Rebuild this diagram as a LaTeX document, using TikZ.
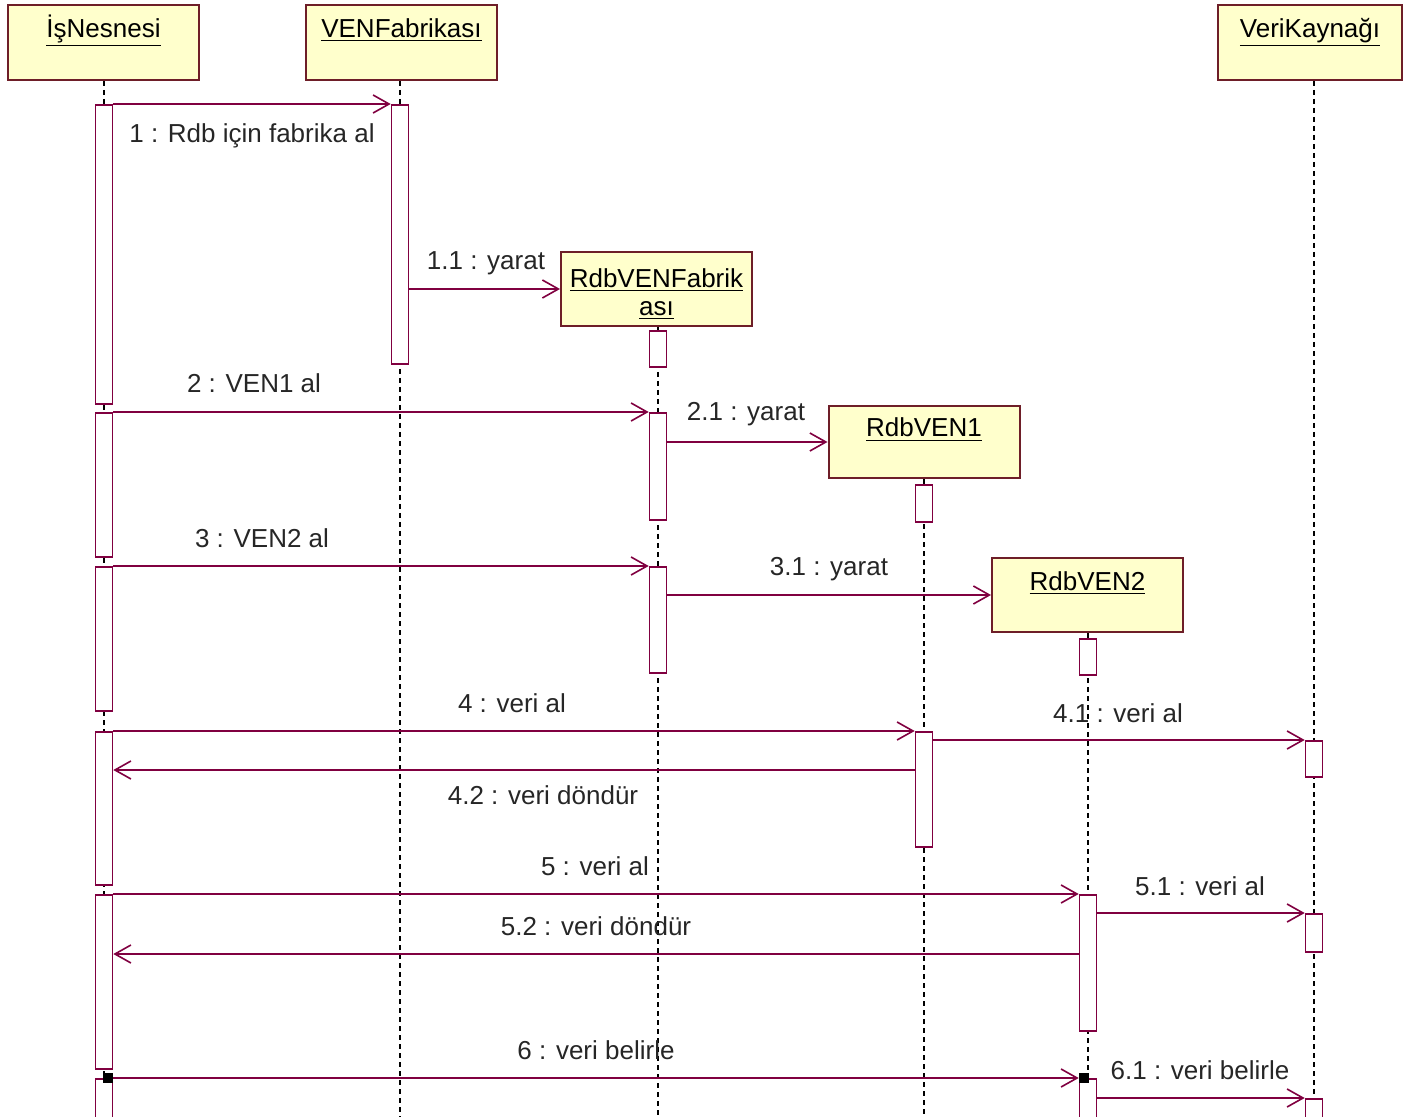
\documentclass[tikz,border=0pt]{standalone}
\usepackage{fontspec}
\setmainfont{Liberation Sans}
\usetikzlibrary{arrows.meta,positioning,calc,backgrounds}
\definecolor{cfill}{RGB}{255,255,204}
\definecolor{cbox}{RGB}{110,30,40}
\definecolor{cmsg}{RGB}{128,0,64}
\newcommand{\actbar}[4]{\node[actbar, minimum height={(#4-#3)*0.5pt}] (#1) at (#2,#3) {};}

\begin{document}
\begin{tikzpicture}[x=0.5pt, y=-0.5pt,
  font=\fontsize{13}{12.5}\selectfont,
  obj/.style={draw=cbox, fill=cfill, line width=1pt, minimum width=95.5pt,
    minimum height=37pt, inner sep=0pt, align=center},
  objone/.style={obj, text height=9pt, text depth=14pt},
  actbar/.style={draw=cmsg, fill=white, line width=0.8pt, minimum width=8.5pt,
    inner sep=0pt, anchor=north},
  life/.style={dash pattern=on 2.5pt off 2pt, line width=0.6pt},
  msg/.style={draw=cmsg, line width=0.8pt, -{Straight Barb[length=8pt,width=9pt]}},
  lbl/.style={text=black!85},
  sync/.style={fill=black, minimum size=5pt, inner sep=0pt}]
  \clip (0,0) rectangle (1403,1117);
  \coordinate (bot) at (0,1117);

  % objects
  \node[objone, minimum height=37.5pt] (isn) at (103.5,42.5) {\underline{İşNesnesi}};
  \node[objone, minimum height=37.5pt] (vf)  at (401.5,42.5) {\underline{VENFabrikası}};
  \node[objone, minimum height=37.5pt, minimum width=92pt] (vk) at (1310,42.5) {\underline{VeriKaynağı}};
  \node[obj] (rvf) at (656.5,289) {\rule{0pt}{14.5pt}\underline{RdbVENFabrik}\\[1.5pt]\underline{ası}};
  \node[objone, minimum height=36pt] (rv1) at (924,442) {\underline{RdbVEN1}};
  \node[objone] (rv2) at (1087.5,595) {\underline{RdbVEN2}};

  % activation bars
  \actbar{is1}{104}{104}{403}
  \actbar{is2}{104}{412}{556}
  \actbar{is3}{104}{566}{710}
  \actbar{is4}{104}{731}{884}
  \actbar{is5}{104}{894}{1068}
  \actbar{is6}{104}{1078}{1130}
  \actbar{vf1}{400}{104}{363}
  \actbar{rvf0}{658}{330}{366}
  \actbar{rvf1}{658}{412}{519}
  \actbar{rvf2}{658}{566}{672}
  \actbar{rv10}{924}{484}{521}
  \actbar{rv11}{924}{731}{846}
  \actbar{rv20}{1088}{638}{674}
  \actbar{rv21}{1088}{894}{1030}
  \actbar{rv22}{1088}{1078}{1130}
  \actbar{vk1}{1314}{740}{776}
  \actbar{vk2}{1314}{913}{951}
  \actbar{vk3}{1314}{1098}{1130}

  % lifelines
  \begin{pgfonlayer}{background}
    \foreach \o/\b in {isn/is1, vf/vf1, rvf/rvf0, rv1/rv10, rv2/rv20, vk/vk1}
      \draw[life] (\o.south -| \b.north) -- (\b.north |- bot);
  \end{pgfonlayer}

  % messages
  \draw[msg] (is1.north east) -- (vf1.north west);
  \draw[msg] (vf1.east |- rvf.west) -- (rvf.west);
  \draw[msg] (is2.north east) -- (rvf1.north west);
  \draw[msg] (rvf1.east |- rv1.west) -- (rv1.west);
  \draw[msg] (is3.north east) -- (rvf2.north west);
  \draw[msg] (rvf2.east |- rv2.west) -- (rv2.west);
  \draw[msg] (is4.north east) -- (rv11.north west);
  \draw[msg] (rv11.east |- vk1.north) -- (vk1.north west);
  \draw[msg] (rv11.west |- 0,770) -- (is4.east |- 0,770);
  \draw[msg] (is5.north east) -- (rv21.north west);
  \draw[msg] (rv21.east |- vk2.north) -- (vk2.north west);
  \draw[msg] (rv21.west |- 0,954) -- (is5.east |- 0,954);
  \draw[msg] (is6.north east) -- (rv22.north west);
  \draw[msg] (rv22.east |- vk3.north) -- (vk3.north west);
  \node[sync] (s6a) at ([xshift=-2.5pt]is6.north east) {};
  \node[sync] (s6b) at ([xshift=2.5pt]rv22.north west) {};

  % labels
  \node[lbl] (l1)  at (252,136)  {1 : Rdb için fabrika al};
  \node[lbl] (l11) at (486,263)  {1.1 : yarat};
  \node[lbl] (l2)  at (254,383)  {2 : VEN1 al};
  \node[lbl] (l21) at (746,414)  {2.1 : yarat};
  \node[lbl] (l3)  at (262,538)  {3 : VEN2 al};
  \node[lbl] (l31) at (829,569)  {3.1 : yarat};
  \node[lbl] (l4)  at (512,703)  {4 : veri al};
  \node[lbl] (l41) at (1118,713) {4.1 : veri al};
  \node[lbl] (l42) at (543,795)  {4.2 : veri döndür};
  \node[lbl] (l5)  at (595,866)  {5 : veri al};
  \node[lbl] (l51) at (1200,886) {5.1 : veri al};
  \node[lbl] (l52) at (596,926)  {5.2 : veri döndür};
  \node[lbl] (l6)  at (596,1050) {6 : veri belirle};
  \node[lbl] (l61) at (1200,1070) {6.1 : veri belirle};
\end{tikzpicture}
\end{document}
